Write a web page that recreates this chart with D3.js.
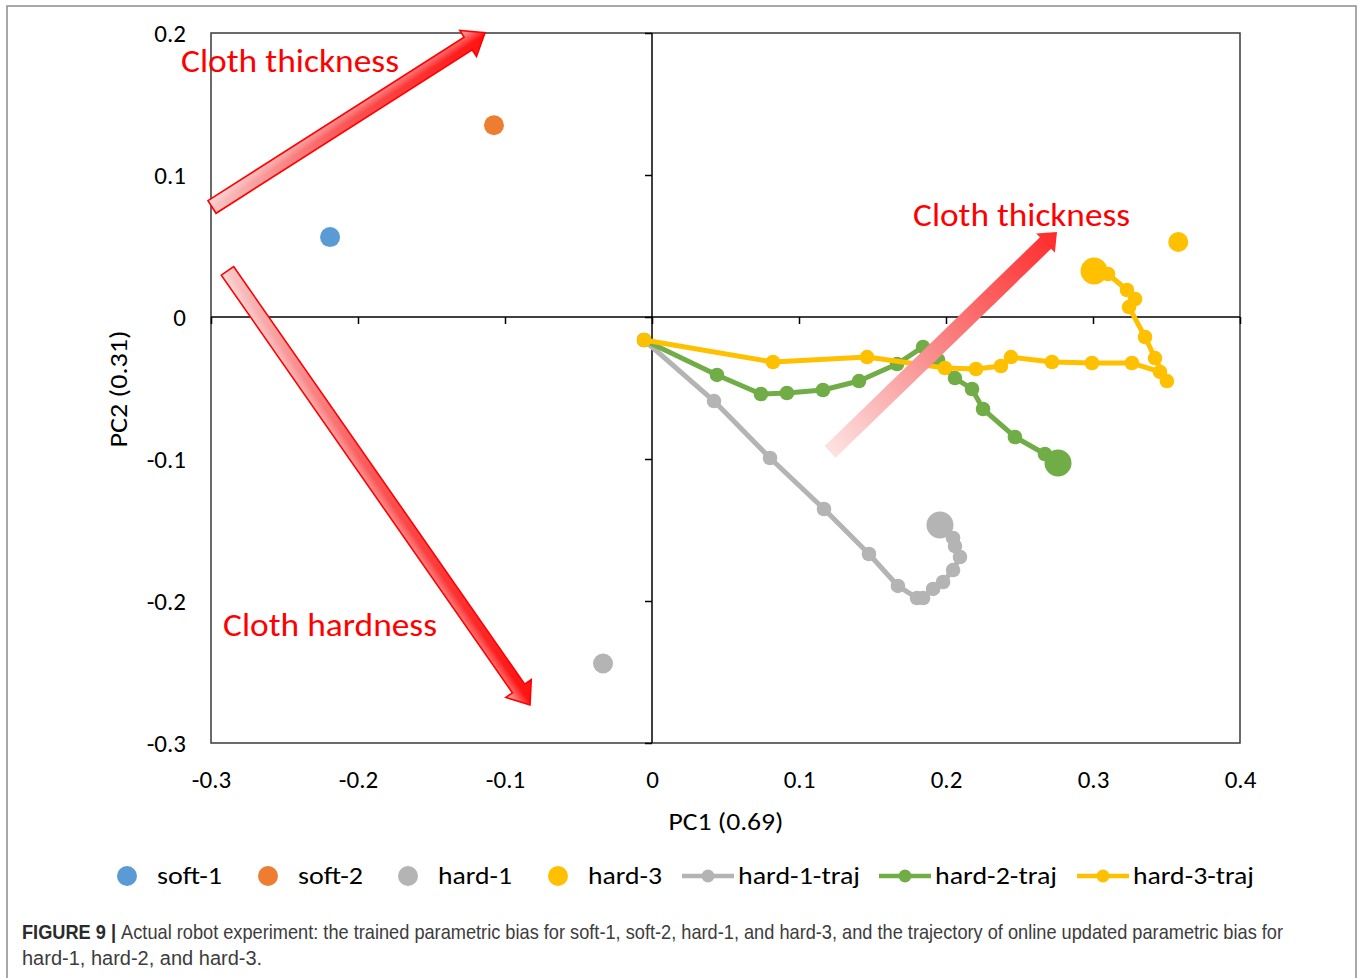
<!DOCTYPE html>
<html>
<head>
<meta charset="utf-8">
<script src="https://cdn.jsdelivr.net/npm/d3@7"></script>
<style>
  body { margin: 0; background: #ffffff; }
  svg { display: block; }
</style>
</head>
<body>
<svg id="chart" width="1362" height="978"></svg>
<script>
// ---- axis ticks ----
const xTicks = [-0.3, -0.2, -0.1, 0, 0.1, 0.2, 0.3, 0.4];
const yTicks = [-0.3, -0.2, -0.1, 0, 0.1, 0.2];

// ---- trained parametric bias (single points) ----
const trainedNames = ["soft-1", "soft-2", "hard-1", "hard-3"];
const trainedPC1 = [-0.219, -0.1075, -0.0333, 0.358];
const trainedPC2 = [0.0563, 0.135, -0.244, 0.0528];
const trainedColors = ["#5b9bd5", "#ed7d31", "#b4b4b4", "#ffc000"];

// ---- online-updated parametric bias trajectories ----
const trajNames = ["hard-1-traj", "hard-2-traj", "hard-3-traj"];
const trajColors = ["#b4b4b4", "#70ad47", "#ffc000"];

const hard1TrajPC1 = [-0.0054, 0.0422, 0.0803, 0.117, 0.1476, 0.1673, 0.1803, 0.1844, 0.1912, 0.198, 0.2048, 0.2095, 0.2061, 0.2048, 0.1959];
const hard1TrajPC2 = [-0.0162, -0.0592, -0.0993, -0.1352, -0.1669, -0.1894, -0.1979, -0.1979, -0.1915, -0.1866, -0.1782, -0.169, -0.1613, -0.1556, -0.1465];

const hard2TrajPC1 = [-0.0054, 0.0442, 0.0741, 0.0918, 0.1163, 0.1408, 0.1667, 0.1844, 0.1946, 0.2061, 0.2177, 0.2252, 0.2469, 0.2673, 0.2762];
const hard2TrajPC2 = [-0.0162, -0.0408, -0.0542, -0.0535, -0.0514, -0.0451, -0.0331, -0.0211, -0.0303, -0.043, -0.0507, -0.0648, -0.0845, -0.0965, -0.1028];

const hard3TrajPC1 = [-0.0054, 0.0823, 0.1463, 0.1993, 0.2204, 0.2374, 0.2442, 0.2721, 0.2993, 0.3265, 0.3456, 0.3503, 0.3422, 0.3354, 0.3245, 0.3286, 0.3231, 0.3102, 0.3007];
const hard3TrajPC2 = [-0.0162, -0.0317, -0.0282, -0.0359, -0.0366, -0.0345, -0.0282, -0.0317, -0.0324, -0.0324, -0.0387, -0.0451, -0.0289, -0.0141, 0.007, 0.0127, 0.019, 0.0303, 0.0324];

// ---- direction annotations (data coordinates: tail -> tip) ----
const arrowTail = [[-0.2993, 0.0775], [-0.2888, 0.0325], [0.1211, -0.0951]];
const arrowTip  = [[-0.1136, 0.2002], [-0.083, -0.2732], [0.2755, 0.0599]];
const noteTexts = ["Cloth thickness", "Cloth hardness", "Cloth thickness"];
const noteAt = [[-0.3204, 0.1725], [-0.2918, -0.2246], [0.1776, 0.0641]];

// ---- caption ----
const captionLead = "FIGURE 9 | ";
const captionLine1 = "Actual robot experiment: the trained parametric bias for soft-1, soft-2, hard-1, and hard-3, and the trajectory of online updated parametric bias for";
const captionLine2 = "hard-1, hard-2, and hard-3.";

// ---- layout ----
const W = 1362, H = 978;
const plot = { left: 211, right: 1240, top: 33, bottom: 743 };
const chartFont = "Carlito, Lato, 'Open Sans', sans-serif";

const svg = d3.select("#chart");

const x = d3.scaleLinear().domain([-0.3, 0.4]).range([plot.left, plot.right]);
const y = d3.scaleLinear().domain([-0.3, 0.2]).range([plot.bottom, plot.top]);

// outer figure frame
svg.append("rect")
  .attr("x", 7).attr("y", 6).attr("width", 1349).attr("height", H + 10)
  .attr("fill", "none").attr("stroke", "#8c8c8c").attr("stroke-width", 1.5);

// gradients for the arrows
const defs = svg.append("defs");
const gLeft = defs.append("linearGradient").attr("id", "arrowFill")
  .attr("x1", 0).attr("y1", 0).attr("x2", 1).attr("y2", 0);
gLeft.append("stop").attr("offset", 0).attr("stop-color", "#f8c4c4");
gLeft.append("stop").attr("offset", 0.45).attr("stop-color", "#fb5a5a");
gLeft.append("stop").attr("offset", 1).attr("stop-color", "#ff1010");

[["sheenTop", 0, 1], ["sheenBottom", 1, 0]].forEach(([id, a, b]) => {
  const g = defs.append("linearGradient").attr("id", id)
    .attr("x1", 0).attr("y1", a).attr("x2", 0).attr("y2", b);
  g.append("stop").attr("offset", 0).attr("stop-color", "#ffffff").attr("stop-opacity", 0.7);
  g.append("stop").attr("offset", 0.55).attr("stop-color", "#ffffff").attr("stop-opacity", 0);
  g.append("stop").attr("offset", 1).attr("stop-color", "#ffffff").attr("stop-opacity", 0);
});

const gRight = defs.append("linearGradient").attr("id", "arrowFillSoft")
  .attr("x1", 0).attr("y1", 0).attr("x2", 1).attr("y2", 0);
gRight.append("stop").attr("offset", 0).attr("stop-color", "#fde2e2");
gRight.append("stop").attr("offset", 0.45).attr("stop-color", "#f98c8c");
gRight.append("stop").attr("offset", 1).attr("stop-color", "#ff2a2a");

// plot area frame
svg.append("rect")
  .attr("x", plot.left).attr("y", plot.top)
  .attr("width", plot.right - plot.left).attr("height", plot.bottom - plot.top)
  .attr("fill", "none").attr("stroke", "#3a3a3a").attr("stroke-width", 1.5);

// zero axes with tick marks
const xZero = svg.append("g").attr("transform", `translate(0,${y(0)})`)
  .call(d3.axisBottom(x).tickValues(xTicks).tickSize(7).tickFormat(""));
xZero.select(".domain").remove();
xZero.selectAll("line").attr("stroke", "#000").attr("stroke-width", 1.5);
svg.append("line")
  .attr("x1", plot.left).attr("x2", plot.right).attr("y1", y(0)).attr("y2", y(0))
  .attr("stroke", "#000").attr("stroke-width", 1.5);

const yZero = svg.append("g").attr("transform", `translate(${x(0)},0)`)
  .call(d3.axisLeft(y).tickValues(yTicks).tickSize(7).tickFormat(""));
yZero.select(".domain").remove();
yZero.selectAll("line").attr("stroke", "#000").attr("stroke-width", 1.5);
svg.append("line")
  .attr("x1", x(0)).attr("x2", x(0)).attr("y1", plot.top).attr("y2", plot.bottom)
  .attr("stroke", "#000").attr("stroke-width", 1.5);

// tick labels at the low edges of the plot
const xLab = svg.append("g").attr("transform", `translate(0,${plot.bottom})`)
  .call(d3.axisBottom(x).tickValues(xTicks).tickSize(0).tickPadding(0).tickFormat(d => String(d)));
xLab.select(".domain").remove();
xLab.selectAll("text")
  .attr("y", 45).attr("dy", 0)
  .attr("font-family", chartFont).attr("font-size", 25).attr("fill", "#000");

const yLab = svg.append("g").attr("transform", `translate(${plot.left},0)`)
  .call(d3.axisLeft(y).tickValues(yTicks).tickSize(0).tickPadding(0).tickFormat(d => String(d)));
yLab.select(".domain").remove();
yLab.selectAll("text")
  .attr("x", -25).attr("dy", "0.33em")
  .attr("font-family", chartFont).attr("font-size", 25).attr("fill", "#000");

// axis titles
svg.append("text")
  .attr("x", 726).attr("y", 830).attr("text-anchor", "middle")
  .attr("font-family", chartFont).attr("font-size", 24).attr("fill", "#000")
  .attr("textLength", 115).attr("lengthAdjust", "spacingAndGlyphs")
  .text("PC1 (0.69)");
svg.append("text")
  .attr("transform", "translate(127,389) rotate(-90)").attr("text-anchor", "middle")
  .attr("font-family", chartFont).attr("font-size", 24).attr("fill", "#000")
  .attr("textLength", 117).attr("lengthAdjust", "spacingAndGlyphs")
  .text("PC2 (0.31)");

// block-arrow outline in local coordinates (pointing along +x)
function arrowPath(len, shaftHalf, headHalf, headLen) {
  const b = len - headLen;
  return `M0,${-shaftHalf}L${b},${-shaftHalf}L${b},${-headHalf}L${len},0L${b},${headHalf}L${b},${shaftHalf}L0,${shaftHalf}Z`;
}
function arrowGeom(i) {
  const x0 = x(arrowTail[i][0]), y0 = y(arrowTail[i][1]);
  const x1 = x(arrowTip[i][0]), y1 = y(arrowTip[i][1]);
  return {
    x0, y0,
    len: Math.hypot(x1 - x0, y1 - y0),
    ang: Math.atan2(y1 - y0, x1 - x0) * 180 / Math.PI
  };
}

// outlined arrows on the left
const leftArrows = [{ i: 0, sheen: "sheenTop" }, { i: 1, sheen: "sheenBottom" }];

// trajectories and points
const lineGen = d3.line().x(d => x(d[0])).y(d => y(d[1]));
const gData = svg.append("g");

trainedNames.forEach((n, k) => {
  gData.append("circle")
    .attr("cx", x(trainedPC1[k])).attr("cy", y(trainedPC2[k]))
    .attr("r", 10).attr("fill", trainedColors[k]);
});

const trajSeries = [
  d3.zip(hard1TrajPC1, hard1TrajPC2),
  d3.zip(hard2TrajPC1, hard2TrajPC2),
  d3.zip(hard3TrajPC1, hard3TrajPC2)
];
trajSeries.forEach((pts, k) => {
  const g = gData.append("g");
  g.append("path").datum(pts).attr("d", lineGen)
    .attr("fill", "none").attr("stroke", trajColors[k])
    .attr("stroke-width", 5).attr("stroke-linejoin", "round");
  g.selectAll("circle").data(pts).join("circle")
    .attr("cx", d => x(d[0])).attr("cy", d => y(d[1]))
    .attr("r", (d, j) => j === pts.length - 1 ? 13.5 : 7.3)
    .attr("fill", trajColors[k]);
});

// arrows drawn above the data
leftArrows.forEach(a => {
  const g = arrowGeom(a.i);
  const d = arrowPath(g.len, 7.5, 15.5, 20);
  const grp = svg.append("g").attr("transform", `translate(${g.x0},${g.y0}) rotate(${g.ang})`);
  grp.append("path").attr("d", d).attr("fill", "url(#arrowFill)");
  grp.append("path").attr("d", d).attr("fill", `url(#${a.sheen})`)
    .attr("stroke", "#ff0000").attr("stroke-width", 1.6).attr("stroke-linejoin", "miter");
});
{
  const g = arrowGeom(2);
  svg.append("path")
    .attr("transform", `translate(${g.x0},${g.y0}) rotate(${g.ang})`)
    .attr("d", arrowPath(g.len, 8, 13.5, 16))
    .attr("fill", "url(#arrowFillSoft)");
}

// annotation labels
const noteWidths = [218, 214, 217];
noteTexts.forEach((t, k) => {
  svg.append("text")
    .attr("x", x(noteAt[k][0])).attr("y", y(noteAt[k][1]))
    .attr("font-family", chartFont).attr("font-size", 32).attr("fill", "#ff0000")
    .attr("textLength", noteWidths[k]).attr("lengthAdjust", "spacingAndGlyphs")
    .text(t);
});

// legend
const legendItems = [
  { name: trainedNames[0], color: trainedColors[0], type: "dot", mx: 127, tx: 157, tw: 65 },
  { name: trainedNames[1], color: trainedColors[1], type: "dot", mx: 268, tx: 298, tw: 65 },
  { name: trainedNames[2], color: trainedColors[2], type: "dot", mx: 408, tx: 438, tw: 74 },
  { name: trainedNames[3], color: trainedColors[3], type: "dot", mx: 558, tx: 588, tw: 74 },
  { name: trajNames[0], color: trajColors[0], type: "line", mx: 708, tx: 738, tw: 122 },
  { name: trajNames[1], color: trajColors[1], type: "line", mx: 905, tx: 935, tw: 122 },
  { name: trajNames[2], color: trajColors[2], type: "line", mx: 1103, tx: 1133, tw: 121 }
];
const legendY = 876;
const gLeg = svg.append("g");
legendItems.forEach(it => {
  if (it.type === "dot") {
    gLeg.append("circle").attr("cx", it.mx).attr("cy", legendY).attr("r", 10).attr("fill", it.color);
  } else {
    gLeg.append("line").attr("x1", it.mx - 26).attr("x2", it.mx + 26)
      .attr("y1", legendY).attr("y2", legendY)
      .attr("stroke", it.color).attr("stroke-width", 4.5);
    gLeg.append("circle").attr("cx", it.mx).attr("cy", legendY).attr("r", 6.5).attr("fill", it.color);
  }
  gLeg.append("text").attr("x", it.tx).attr("y", legendY + 8)
    .attr("font-family", chartFont).attr("font-size", 25).attr("fill", "#000")
    .attr("textLength", it.tw).attr("lengthAdjust", "spacingAndGlyphs")
    .text(it.name);
});

// figure caption: set in a condensed face by scaling each line horizontally to its width
const capFont = "'Liberation Sans Narrow', 'Arial Narrow', 'Liberation Sans', Arial, sans-serif";
function captionLine(yPos, targetWidth, build) {
  const g = svg.append("g");
  const t = g.append("text").attr("x", 0).attr("y", 0)
    .attr("font-family", capFont).attr("font-size", 20).attr("fill", "#3c3c3c");
  build(t);
  const natural = t.node().getComputedTextLength();
  const sx = Math.min(1, targetWidth / natural);
  g.attr("transform", `translate(22,${yPos}) scale(${sx},1)`);
}
captionLine(939, 1262, t => {
  t.append("tspan").attr("font-weight", "bold").attr("fill", "#2b2b2b").text(captionLead);
  t.append("tspan").text(captionLine1);
});
captionLine(965, 247, t => t.text(captionLine2));
</script>
</body>
</html>
